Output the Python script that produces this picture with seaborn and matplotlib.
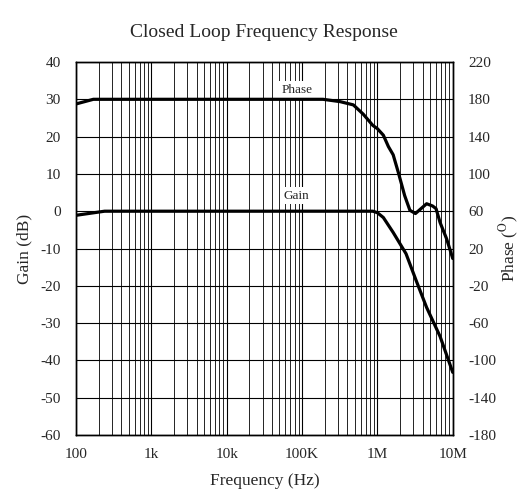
"""
Closed loop frequency response: gain and phase against frequency on a log axis.
"""

import matplotlib
matplotlib.use("Agg")
import matplotlib.pyplot as plt
from matplotlib.ticker import FixedLocator, FixedFormatter, LogLocator, NullFormatter
import seaborn as sns
import pandas as pd

# gain curve (Hz, dB)
gain_freq = [100, 240, 1e4, 1e5, 8.7e5, 1.0e6, 1.2e6, 1.62e6, 2.4e6, 3.3e6, 4.5e6, 6.8e6, 1.0e7]
gain_db = [-1.1, 0.0, 0.0, 0.0, 0.0, -0.4, -1.7, -5.7, -11.4, -18.8, -25.8, -33.6, -43.2]

# phase curve (Hz, degrees)
phase_freq = [100, 170, 1e4, 1.9e5, 3.2e5, 4.8e5, 6.5e5, 8.7e5, 1.0e6, 1.2e6, 1.4e6, 1.62e6,
              1.9e6, 2.3e6, 2.7e6, 3.2e6, 3.8e6, 4.5e6, 5.4e6, 6.0e6, 6.8e6, 8.3e6, 1.0e7]
phase_deg = [175, 180, 180, 180, 177.5, 174, 164, 152, 148.5, 141.5, 129.3, 120.5,
             101.3, 76.8, 61, 57.5, 62.8, 68, 65.6, 62.8, 47.8, 30.3, 9.3]

xtick_vals = [1e2, 1e3, 1e4, 1e5, 1e6, 1e7]
xtick_labels = ["100", "1k", "10k", "100K", "1M", "10M"]
gain_ticks = list(range(-60, 41, 10))
phase_ticks = list(range(-180, 221, 40))

gain_df = pd.DataFrame({"freq": gain_freq, "gain": gain_db})
phase_df = pd.DataFrame({"freq": phase_freq, "phase": phase_deg})

sns.set_style("white")
plt.rcParams["font.family"] = ["Liberation Serif", "DejaVu Serif"]
plt.rcParams["mathtext.fontset"] = "stix"
plt.rcParams["axes.unicode_minus"] = False

fig, ax = plt.subplots(figsize=(5.24, 4.98), dpi=100)
fig.subplots_adjust(left=0.145, right=0.864, top=0.8755, bottom=0.1265)

sns.lineplot(data=gain_df, x="freq", y="gain", ax=ax, color="black", lw=2.3, sort=False)

ax2 = ax.twinx()
sns.lineplot(data=phase_df, x="freq", y="phase", ax=ax2, color="black", lw=2.3, sort=False)

# log frequency axis with the grid drawn on every decade step
ax.set_xscale("log")
ax.set_xlim(1e2, 1e7)
ax.set_ylim(-60, 40)
ax.set_yticks(gain_ticks)
ax2.set_ylim(-180, 220)
ax2.set_yticks(phase_ticks)
ax.xaxis.set_major_locator(FixedLocator(xtick_vals))
ax.xaxis.set_major_formatter(FixedFormatter(xtick_labels))
ax.xaxis.set_minor_locator(LogLocator(base=10, subs=range(2, 10)))
ax.xaxis.set_minor_formatter(NullFormatter())
ax.grid(True, which="major", color="black", lw=0.8)
ax.grid(True, which="minor", axis="x", color="black", lw=0.6)
ax.set_axisbelow(True)

for a in (ax, ax2):
    a.tick_params(which="both", length=0, labelsize=11)
    a.tick_params(axis="y", pad=11)
    a.tick_params(axis="x", pad=9)
    for s in a.spines.values():
        s.set_color("black")
        s.set_linewidth(1.0)

ax.set_xlabel("Frequency (Hz)", fontsize=12.5, labelpad=9)
ax.set_ylabel("Gain (dB)", fontsize=12.5, labelpad=6)
ax2.set_ylabel(r"Phase ($^{\rm O}$)", fontsize=12.5, labelpad=1)
ax.set_title("Closed Loop Frequency Response", fontsize=14, pad=18)

box = dict(facecolor="white", edgecolor="none", pad=1.5)
ax.text(8.5e4, 32.6, "Phase", ha="center", va="center", fontsize=9.5, bbox=box, zorder=5)
ax.text(8.5e4, 4.2, "Gain", ha="center", va="center", fontsize=9.5, bbox=box, zorder=5)

fig.savefig("out.png", dpi=100)
